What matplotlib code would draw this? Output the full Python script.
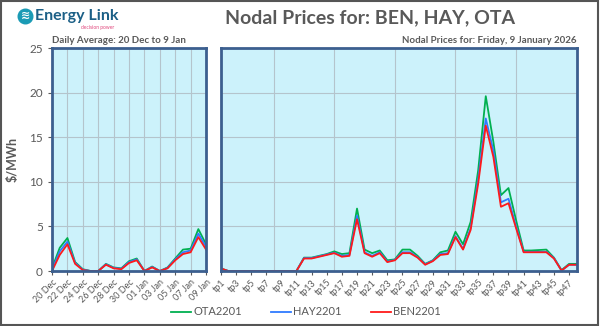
import matplotlib.pyplot as plt
from matplotlib.patches import Rectangle
from matplotlib.lines import Line2D

plt.rcParams['font.family'] = ['Lato', 'DejaVu Sans']

# daily averages, 20 Dec to 9 Jan
days = ['20 Dec', '21 Dec', '22 Dec', '23 Dec', '24 Dec', '25 Dec', '26 Dec',
        '27 Dec', '28 Dec', '29 Dec', '30 Dec', '31 Dec', '01 Jan', '02 Jan',
        '03 Jan', '04 Jan', '05 Jan', '06 Jan', '07 Jan', '08 Jan', '09 Jan']
ota_daily = [0.3, 2.6, 3.7, 1.0, 0.2, 0.0, 0.0, 0.8, 0.4, 0.3, 1.1, 1.4, 0.0,
             0.5, 0.0, 0.4, 1.4, 2.4, 2.5, 4.7, 3.0]
hay_daily = [0.1, 2.2, 3.3, 0.9, 0.15, 0.0, 0.0, 0.75, 0.35, 0.25, 1.0, 1.3, 0.0,
             0.45, 0.0, 0.35, 1.3, 2.1, 2.3, 4.2, 2.7]
ben_daily = [0.0, 1.8, 3.0, 0.8, 0.1, 0.0, 0.0, 0.7, 0.3, 0.2, 0.9, 1.2, 0.0,
             0.4, 0.0, 0.3, 1.2, 1.9, 2.1, 3.8, 2.4]

# trading periods, 9 Jan 2026
periods = ['tp%d' % i for i in range(1, 49)]
ota_tp = [0.3, 0.0, 0.0, 0.0, 0.0, 0.0, 0.0, 0.0, 0.0, 0.0, 0.0, 1.5,
          1.5, 1.7, 1.9, 2.2, 1.9, 2.0, 7.0, 2.4, 2.0, 2.3,
          1.2, 1.3, 2.4, 2.4, 1.7, 0.8, 1.2, 2.1, 2.3, 4.4,
          3.0, 5.5, 11.3, 19.6, 14.5, 8.5, 9.3, 5.7, 2.3, 2.3,
          2.35, 2.4, 1.5, 0.1, 0.8, 0.8]
hay_tp = [0.25, 0.0, 0.0, 0.0, 0.0, 0.0, 0.0, 0.0, 0.0, 0.0, 0.0, 1.45,
          1.45, 1.65, 1.85, 2.05, 1.7, 1.8, 6.2, 2.1, 1.7, 2.1,
          1.05, 1.25, 2.1, 2.1, 1.55, 0.75, 1.15, 1.9, 2.0, 3.9,
          2.5, 4.8, 10.3, 17.1, 13.5, 7.7, 8.1, 5.0, 2.15, 2.15,
          2.15, 2.15, 1.45, 0.05, 0.7, 0.7]
ben_tp = [0.3, 0.0, 0.0, 0.0, 0.0, 0.0, 0.0, 0.0, 0.0, 0.0, 0.0, 1.4,
          1.4, 1.6, 1.8, 2.0, 1.6, 1.7, 5.8, 2.0, 1.6, 2.0,
          1.0, 1.2, 2.0, 2.0, 1.5, 0.7, 1.1, 1.8, 1.9, 3.8,
          2.4, 4.6, 9.8, 16.3, 12.8, 7.2, 7.6, 4.8, 2.1, 2.1,
          2.1, 2.1, 1.4, 0.05, 0.7, 0.7]

series_names = ['OTA2201', 'HAY2201', 'BEN2201']
series_colors = ['#00b050', '#2f7bff', '#ff1a1a']

grey = '#595959'
face = '#ccf2fb'
edge = '#3c5f8f'

fig = plt.figure(figsize=(6, 3.26), dpi=100)
fig.patches.append(Rectangle((0.002, 0.003), 0.995, 0.994, transform=fig.transFigure,
                             fill=False, edgecolor='#555555', linewidth=1.5))

ax1 = fig.add_axes([0.0867, 0.1687, 0.2567, 0.684])
ax2 = fig.add_axes([0.3678, 0.1687, 0.5933, 0.684])

for ax in (ax1, ax2):
    ax.set_facecolor(face)
    ax.set_ylim(0, 25)
    ax.set_yticks([0, 5, 10, 15, 20, 25])
    ax.grid(True, color='#b4c4cc', linewidth=0.8)
    ax.set_axisbelow(True)
    for s in ax.spines.values():
        s.set_edgecolor(edge)
        s.set_linewidth(2)
    ax.tick_params(axis='both', colors=grey, labelsize=8.5, length=3)
    ax.tick_params(axis='x', labelsize=6.5, rotation=45, pad=2)

# left panel
xd = range(len(days))
for vals, c in zip([ota_daily, hay_daily, ben_daily], series_colors):
    ax1.plot(xd, vals, color=c, linewidth=1.3)
ax1.set_xlim(0, len(days) - 1)
ax1.set_xticks(list(xd)[::2])
ax1.set_xticklabels(days[::2], ha='right', rotation_mode='anchor')
ax1.set_ylabel('$/MWh', color=grey, fontsize=9, fontweight='bold', labelpad=8)

# right panel
xt = range(len(periods))
for vals, c in zip([ota_tp, hay_tp, ben_tp], series_colors):
    ax2.plot(xt, vals, color=c, linewidth=1.3)
ax2.set_xlim(0, len(periods) - 1)
ax2.set_xticks(list(xt)[::2])
ax2.set_xticklabels(periods[::2], ha='right', rotation_mode='anchor')
ax2.set_xticks(list(xt)[7::8], minor=True)
ax2.grid(False, which='major', axis='x')
ax2.grid(True, which='minor', axis='x', color='#b4c4cc', linewidth=0.8)
ax2.tick_params(axis='x', which='minor', length=0)
ax2.tick_params(axis='y', labelleft=False, length=0)

# titles
fig.text(0.617, 0.945, 'Nodal Prices for: BEN, HAY, OTA', ha='center', va='center',
         fontsize=14, fontweight='bold', color=grey)
fig.text(0.0867, 0.875, 'Daily Average: 20 Dec to 9 Jan', ha='left', va='center',
         fontsize=7, fontweight='bold', color=grey)
fig.text(0.961, 0.875, 'Nodal Prices for: Friday, 9 January 2026', ha='right', va='center',
         fontsize=7, fontweight='bold', color=grey)

# logo
fig.add_artist(Line2D([0.042], [0.952], marker='o', markersize=10.5, color='#1a9bb5',
                      linestyle='none', transform=fig.transFigure))
fig.text(0.042, 0.950, '≋', ha='center', va='center', fontsize=8, color='white',
         family='DejaVu Sans', fontweight='bold')
fig.text(0.058, 0.952, 'Energy Link', ha='left', va='center', fontsize=11.5,
         fontweight='bold', color='#1b5f86')
fig.text(0.163, 0.915, 'decision power', ha='center', va='center', fontsize=3.5,
         color='#e0457b')

# legend
handles = [Line2D([], [], color=c, linewidth=1.3) for c in series_colors]
fig.legend(handles, series_names, loc='center', bbox_to_anchor=(0.51, 0.043), ncol=3,
           frameon=False, fontsize=8, labelcolor=grey, handlelength=1.8,
           handletextpad=0.2, columnspacing=2.6)

fig.savefig('out.png', dpi=100)
